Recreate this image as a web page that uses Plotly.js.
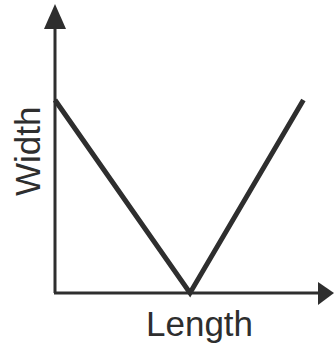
<!DOCTYPE html>
<html><head><meta charset="utf-8">
<script src="https://cdn.plot.ly/plotly-3.0.1.min.js"></script>
<style>html,body{margin:0;padding:0;background:#fff}#c{width:334px;height:343px}</style>
</head><body><div id="c"></div>
<script>
const lengthVals = [0, 10, 18.4];
const widthVals = [10, 0, 10];
const xLabel = "Length";
const yLabel = "Width";

const W = 334, H = 343;
const col = "#2e2e2e";
function px(x){return x/W;} function py(y){return 1 - y/H;}
const tri = (pts) => 'M' + pts.map(p => px(p[0]) + ',' + py(p[1])).join(' L') + ' Z';

const data = [{
  x: lengthVals, y: widthVals, type: 'scatter', mode: 'lines',
  line: {color: col, width: 5}, hoverinfo: 'skip'
}];
const layout = {
  width: W, height: H, margin: {l:0, r:0, t:0, b:0},
  paper_bgcolor: '#fff', plot_bgcolor: '#fff', showlegend: false,
  xaxis: {range: [-55/13.5, 279/13.5], visible: false, fixedrange: true},
  yaxis: {range: [-50/19.3, 293/19.3], visible: false, fixedrange: true},
  shapes: [
    {type:'line', xref:'paper', yref:'paper', x0:px(55), x1:px(55), y0:py(293), y1:py(25), line:{color:col, width:3}},
    {type:'line', xref:'paper', yref:'paper', x0:px(54), x1:px(322), y0:py(293), y1:py(293), line:{color:col, width:3}},
    {type:'path', xref:'paper', yref:'paper', path: tri([[55,4],[44,29],[66,29]]), fillcolor: col, line:{width:0}},
    {type:'path', xref:'paper', yref:'paper', path: tri([[334,293],[318,282],[318,305]]), fillcolor: col, line:{width:0}}
  ],
  annotations: [
    {text: yLabel, xref:'paper', yref:'paper', x:px(27), y:py(152), textangle:-90, showarrow:false,
     font:{family:'Liberation Sans, Arial, sans-serif', size:35, color:col}, xanchor:'center', yanchor:'middle'},
    {text: xLabel, xref:'paper', yref:'paper', x:px(200), y:py(323), showarrow:false,
     font:{family:'Liberation Sans, Arial, sans-serif', size:35, color:col}, xanchor:'center', yanchor:'middle'}
  ]
};
Plotly.newPlot('c', data, layout, {staticPlot:true, displayModeBar:false});
</script></body></html>
